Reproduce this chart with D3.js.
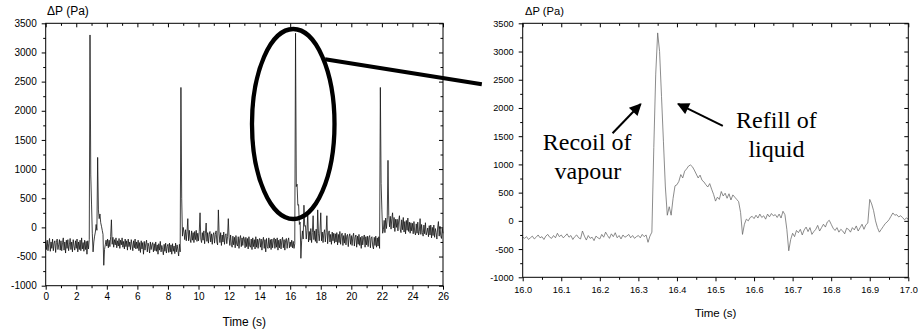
<!DOCTYPE html>
<html>
<head>
<meta charset="utf-8">
<script src="https://cdn.jsdelivr.net/npm/d3@7"></script>
<style>
body { margin: 0; background: #fff; }
svg { display: block; background: #fff; }
</style>
</head>
<body>
<svg width="918" height="332"></svg>
<script>
// full record, one sample every 0.05 s from 0 to 26 s
const mainStep = 0.05;
const mainDp = [
  -240,-380,-220,-400,-280,-190,-410,-250,-360,-200,-400,-270,-230,-430,-260,-200,-380,-300,-210,-390,
  -230,-400,-260,-180,-390,-250,-440,-220,-360,-210,-400,-300,-190,-380,-250,-420,-210,-320,-390,-230,
  -360,-200,-420,-250,-380,-220,-400,-180,-370,-260,-410,-220,-380,-240,-460,-230,-370,-210,3300,900,
  400,-100,-420,-250,-150,-80,50,-50,1200,300,150,230,80,20,-50,-120,-650,-380,-300,-220,
  -320,-200,-350,-220,-330,-160,130,-290,-170,-340,-210,-300,-180,-350,-230,-320,-190,-360,-220,-300,
  -180,-340,-240,-370,-200,-330,-230,-390,-200,-330,-250,-380,-210,-300,-400,-230,-350,-200,-370,-250,
  -360,-220,-400,-260,-430,-230,-370,-260,-460,-240,-390,-280,-220,-420,-270,-330,-440,-250,-380,-300,
  -260,-420,-280,-400,-250,-410,-300,-460,-280,-390,-240,-420,-310,-380,-470,-290,-410,-270,-440,-330,
  -290,-430,-270,-420,-300,-460,-280,-410,-320,-450,-270,-420,-300,-390,-490,-290,-420,2400,500,-150,
  0,-80,-210,-40,-230,-70,150,-230,-50,-200,-260,-60,-220,-90,-260,-70,-210,-50,-240,-100,
  -230,-70,250,-200,-260,-90,-220,-60,-280,-110,75,-240,-90,-270,-120,-70,-250,-110,-290,-130,
  -90,-270,-120,-60,-250,-300,300,-110,-260,-90,-310,-130,-250,-80,-290,-140,-110,-280,-160,150,
  -170,-310,-130,-290,-340,-150,-300,-170,-350,-140,-290,-320,-160,-360,-190,-140,-330,-180,-310,-160,
  -200,-350,-170,-330,-190,-370,-160,-320,-340,-200,-380,-180,-330,-210,-370,-160,-340,-200,-360,-220,
  -190,-340,-200,-390,-230,-170,-360,-210,-420,-190,-330,-360,-180,-350,-210,-380,-200,-350,-230,-180,
  -360,-200,-340,-180,-390,-220,-350,-200,-370,-230,-170,-350,-210,-390,-220,-190,-360,-230,-180,-350,
  -250,-330,-220,-350,-240,-360,-280,3330,700,740,380,390,50,90,-530,-230,-60,-200,380,20,
  30,-200,-50,250,-250,-70,-220,-20,-260,-90,200,-210,-60,-240,-30,-270,300,-100,-230,-60,
  250,-230,-80,-260,-100,-40,-250,-90,200,-280,-110,-60,-250,-120,-290,-80,-230,-100,-270,-110,
  -250,-90,-300,-120,-260,-70,-290,-130,-100,-310,-140,-270,-100,-300,-150,-120,-330,-160,-110,-290,
  -140,-310,-160,-100,-320,-170,-130,-340,-150,-290,-120,-310,-170,-360,-150,-300,-180,-130,-340,-160,
  -300,-150,-330,-170,-140,-350,-180,-160,-320,-370,-170,-310,-150,-340,-180,-320,-160,-360,2400,750,
  300,-100,-40,120,-90,160,-20,140,1150,200,10,190,-30,150,250,-10,170,-70,140,0,
  140,-60,110,200,-30,-90,130,-40,170,-80,100,-110,120,-50,160,-70,90,-100,80,-60,
  70,-110,100,-80,-130,60,-100,90,-130,-70,150,-120,50,-90,-150,40,-110,80,-130,-80,
  -10,-160,30,-130,40,-180,0,-140,40,-170,-20,-90,-200,-10,100,-150,20,-140,-190,-20,
  -100
];

// close-up, one sample every 0.005 s from 16.0 to 17.0 s
const zoomStart = 16.0;
const zoomStep = 0.005;
const zoomDp = [
  -290,-310,-280,-330,-300,-270,-320,-290,-250,-300,-280,-330,-270,-240,-290,-310,-260,-300,-220,-280,
  -250,-300,-270,-230,-290,-260,-330,-280,-250,-300,-320,-180,-270,-340,-260,-310,-290,-350,-270,-300,
  -320,-240,-290,-200,-260,-310,-230,-280,-210,-300,-260,-320,-250,-290,-270,-240,-300,-260,-310,-280,
  -260,-300,-240,-280,-250,-380,-270,-200,1300,2600,3330,3000,2200,1400,600,100,250,100,400,620,
  640,700,820,760,880,920,970,990,960,900,830,760,810,720,690,640,600,660,560,470,
  350,420,380,520,440,490,400,480,370,460,420,380,340,150,-240,-60,30,0,60,80,
  40,100,50,120,60,90,30,120,70,130,90,110,60,120,50,170,110,-150,-530,-330,
  -220,-280,-170,-210,-150,-250,-160,-110,-190,-120,-240,-190,-150,-80,-180,-120,-60,-110,-20,10,
  -60,-130,-170,-120,-200,-150,-180,-230,-130,-150,-200,-120,-160,-90,-180,-120,-60,-150,-70,-40,
  380,300,180,0,-120,-200,-150,-100,-50,-20,20,80,140,100,110,70,90,60,20,50,
  30
];

const yMajor = [-1000, -500, 0, 500, 1000, 1500, 2000, 2500, 3000, 3500];
const yMinor = [-750, -250, 250, 750, 1250, 1750, 2250, 2750, 3250];
const mainXMajor = [0, 2, 4, 6, 8, 10, 12, 14, 16, 18, 20, 22, 24, 26];
const mainXMinor = [1, 3, 5, 7, 9, 11, 13, 15, 17, 19, 21, 23, 25];
const zoomXMajor = [16.0, 16.1, 16.2, 16.3, 16.4, 16.5, 16.6, 16.7, 16.8, 16.9, 17.0];
const zoomXLabels = ['16.0', '16.1', '16.2', '16.3', '16.4', '16.5', '16.6', '16.7', '16.8', '16.9', '17.0'];
const zoomXMinor = [16.05, 16.15, 16.25, 16.35, 16.45, 16.55, 16.65, 16.75, 16.85, 16.95];

// highlighted region on the full record and the notes on the close-up
const highlight = { t: 16.2, dp: 1773, rt: 2.7, rdp: 1629 };
const connector = { from: [18.28, 2882], to: [15.894, 2420] };
const notes = [
  { text: 'Recoil of', t: 16.167, dp: 1255 },
  { text: 'vapour', t: 16.169, dp: 736 },
  { text: 'Refill of', t: 16.658, dp: 1645 },
  { text: 'liquid', t: 16.658, dp: 1137 }
];
const arrows = [
  { from: [16.233, 1551], to: [16.306, 2070] },
  { from: [16.519, 1681], to: [16.403, 2071] }
];

var svg = d3.select('svg');
var sans = '"Liberation Sans", Arial, sans-serif';
var serif = '"Liberation Serif", "Times New Roman", serif';

var mainX = d3.scaleLinear().domain([0, 26]).range([45.7, 443]);
var mainY = d3.scaleLinear().domain([-1000, 3500]).range([285.7, 23.3]);
var zoomX = d3.scaleLinear().domain([16, 17]).range([522.7, 908.3]);
var zoomY = d3.scaleLinear().domain([-1000, 3500]).range([277.3, 23.3]);

svg.append('defs').append('marker')
  .attr('id', 'head')
  .attr('viewBox', '0 0 10 10')
  .attr('refX', 9)
  .attr('refY', 5)
  .attr('markerUnits', 'userSpaceOnUse')
  .attr('markerWidth', 14)
  .attr('markerHeight', 12)
  .attr('orient', 'auto')
  .append('path')
  .attr('d', 'M0,0L10,5L0,10Z')
  .attr('fill', '#000');

function plain(d) { return String(d); }

function drawFrame(x, y, xMajor, xMinor, xFmt, fontSize, xPad) {
  var g = svg.append('g');
  var x0 = x.range()[0], x1 = x.range()[1];
  var y0 = y.range()[0], y1 = y.range()[1];

  g.append('g')
    .attr('transform', 'translate(0,' + y0 + ')')
    .call(d3.axisBottom(x).tickValues(xMajor).tickSize(4).tickSizeOuter(0)
      .tickPadding(xPad).tickFormat(xFmt));
  g.append('g')
    .attr('transform', 'translate(0,' + y0 + ')')
    .call(d3.axisBottom(x).tickValues(xMinor).tickSize(2.5).tickFormat(''));

  g.append('g')
    .attr('transform', 'translate(' + x0 + ',0)')
    .call(d3.axisLeft(y).tickValues(yMajor).tickSize(4).tickSizeOuter(0)
      .tickPadding(5).tickFormat(plain));
  g.append('g')
    .attr('transform', 'translate(' + x0 + ',0)')
    .call(d3.axisLeft(y).tickValues(yMinor).tickSize(2.5).tickFormat(''));

  // mirrored ticks pointing inward
  g.append('g')
    .attr('transform', 'translate(0,' + y1 + ')')
    .call(d3.axisBottom(x).tickValues(xMajor).tickSize(4).tickFormat(''));
  g.append('g')
    .attr('transform', 'translate(0,' + y1 + ')')
    .call(d3.axisBottom(x).tickValues(xMinor).tickSize(2.5).tickFormat(''));
  g.append('g')
    .attr('transform', 'translate(' + x1 + ',0)')
    .call(d3.axisLeft(y).tickValues(yMajor).tickSize(4).tickFormat(''));
  g.append('g')
    .attr('transform', 'translate(' + x1 + ',0)')
    .call(d3.axisLeft(y).tickValues(yMinor).tickSize(2.5).tickFormat(''));

  g.selectAll('.domain').remove();
  g.selectAll('.tick line').attr('stroke', '#000').attr('stroke-width', 1);
  g.selectAll('g').attr('font-family', sans);
  g.selectAll('.tick text').attr('font-family', sans).attr('font-size', fontSize).attr('fill', '#000');

  g.append('rect')
    .attr('x', x0).attr('y', y1)
    .attr('width', x1 - x0).attr('height', y0 - y1)
    .attr('fill', 'none')
    .attr('stroke', '#000')
    .attr('stroke-width', 1);
  return g;
}

// full record
var mainLine = d3.line()
  .x(function(d, i) { return mainX(i * mainStep); })
  .y(function(d) { return mainY(d); });

svg.append('path')
  .datum(mainDp)
  .attr('d', mainLine)
  .attr('fill', 'none')
  .attr('stroke', '#111')
  .attr('stroke-width', 0.8);

drawFrame(mainX, mainY, mainXMajor, mainXMinor, plain, 10, 3);

svg.append('text')
  .attr('x', 47).attr('y', 15)
  .attr('font-family', sans).attr('font-size', 12)
  .text('\u0394P (Pa)');
svg.append('text')
  .attr('x', (mainX.range()[0] + mainX.range()[1]) / 2).attr('y', 325.5)
  .attr('text-anchor', 'middle')
  .attr('font-family', sans).attr('font-size', 12)
  .text('Time (s)');

// close-up
var zoomLine = d3.line()
  .x(function(d, i) { return zoomX(zoomStart + i * zoomStep); })
  .y(function(d) { return zoomY(d); });

svg.append('path')
  .datum(zoomDp)
  .attr('d', zoomLine)
  .attr('fill', 'none')
  .attr('stroke', '#666')
  .attr('stroke-width', 0.75);

drawFrame(zoomX, zoomY, zoomXMajor, zoomXMinor, function(d, i) { return zoomXLabels[i]; }, 9.2, 5);

svg.append('text')
  .attr('x', 525).attr('y', 15)
  .attr('font-family', sans).attr('font-size', 11.2)
  .text('\u0394P (Pa)');
svg.append('text')
  .attr('x', (zoomX.range()[0] + zoomX.range()[1]) / 2).attr('y', 316.5)
  .attr('text-anchor', 'middle')
  .attr('font-family', sans).attr('font-size', 11.5)
  .text('Time (s)');

// ellipse and connector
svg.append('ellipse')
  .attr('cx', mainX(highlight.t))
  .attr('cy', mainY(highlight.dp))
  .attr('rx', mainX(highlight.t + highlight.rt) - mainX(highlight.t))
  .attr('ry', mainY(highlight.dp) - mainY(highlight.dp + highlight.rdp))
  .attr('fill', 'none')
  .attr('stroke', '#000')
  .attr('stroke-width', 4.3);

svg.append('line')
  .attr('x1', mainX(connector.from[0])).attr('y1', mainY(connector.from[1]))
  .attr('x2', zoomX(connector.to[0])).attr('y2', zoomY(connector.to[1]))
  .attr('stroke', '#000')
  .attr('stroke-width', 4);

svg.selectAll('.note')
  .data(notes)
  .enter().append('text')
  .attr('class', 'note')
  .attr('x', function(d) { return zoomX(d.t); })
  .attr('y', function(d) { return zoomY(d.dp); })
  .attr('text-anchor', 'middle')
  .attr('font-family', serif)
  .attr('font-size', 24)
  .text(function(d) { return d.text; });

svg.selectAll('.arrow')
  .data(arrows)
  .enter().append('line')
  .attr('class', 'arrow')
  .attr('x1', function(d) { return zoomX(d.from[0]); })
  .attr('y1', function(d) { return zoomY(d.from[1]); })
  .attr('x2', function(d) { return zoomX(d.to[0]); })
  .attr('y2', function(d) { return zoomY(d.to[1]); })
  .attr('stroke', '#000')
  .attr('stroke-width', 2)
  .attr('marker-end', 'url(#head)');
</script>
</body>
</html>
